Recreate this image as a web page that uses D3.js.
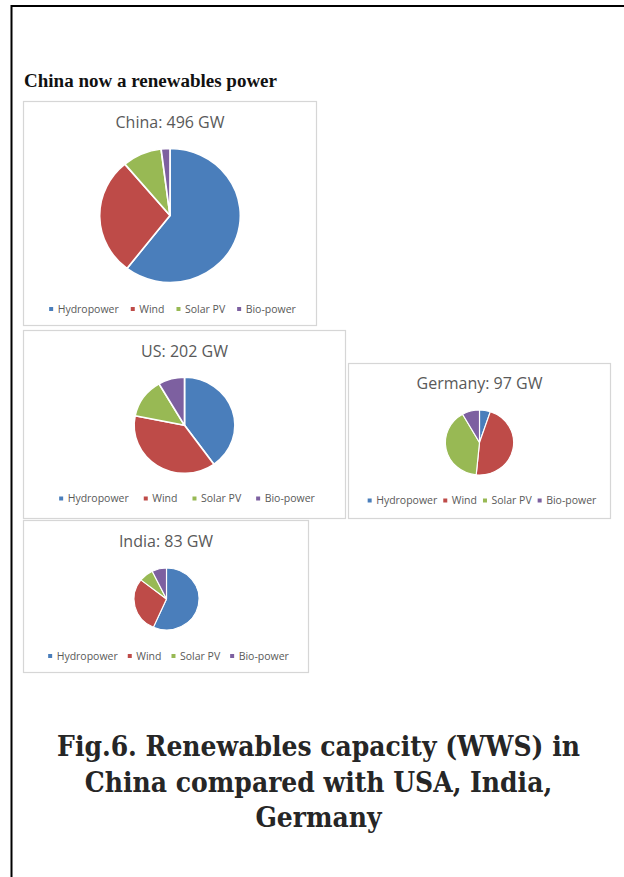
<!DOCTYPE html>
<html>
<head>
<meta charset="utf-8">
<script src="https://cdn.jsdelivr.net/npm/d3@7"></script>
<style>
  html, body { margin: 0; padding: 0; background: #fff; }
  svg { display: block; }
</style>
</head>
<body>
<svg id="chart" width="624" height="877"></svg>
<script>
// ---------------- DATA ----------------
const categories = ["Hydropower", "Wind", "Solar PV", "Bio-power"];
const countries = ["China", "US", "Germany", "India"];
const totalsGW = [496, 202, 97, 83];
const chinaValues = [300, 141, 45, 10];
const usValues = [81, 77, 27, 17];
const germanyValues = [5, 45, 39, 8];
const indiaValues = [47, 24, 6, 6];
const seriesValues = [chinaValues, usValues, germanyValues, indiaValues];
const headline = "China now a renewables power";
const captionLines = [
  "Fig.6. Renewables capacity (WWS) in",
  "China compared with USA, India,",
  "Germany"
];

// ---------------- LAYOUT ----------------
const colors = ["#4a7ebb", "#be4b48", "#98b954", "#7d60a0"];
const panelLayout = [
  { x: 23.5, y: 101.5, w: 293, h: 224, cx: 170, cy: 215.5, r: 67, titleY: 127.5, legendY: 309, gap: 14 },
  { x: 23.5, y: 330.5, w: 322, h: 188, cx: 184.5, cy: 425.3, r: 48, titleY: 356.5, legendY: 498.5, gap: 17 },
  { x: 348.5, y: 363.5, w: 262, h: 155, cx: 479.5, cy: 442.5, r: 32.5, titleY: 388.5, legendY: 500.5, gap: 8 },
  { x: 23.5, y: 520.5, w: 285, h: 152, cx: 166.5, cy: 599, r: 31, titleY: 546.5, legendY: 656, gap: 12 }
];

const svg = d3.select("#chart");
const color = d3.scaleOrdinal().domain(categories).range(colors);

// frame lines
svg.append("line").attr("x1", 11.5).attr("x2", 624).attr("y1", 6).attr("y2", 6)
  .attr("stroke", "#000").attr("stroke-width", 2);
svg.append("line").attr("x1", 11.5).attr("x2", 11.5).attr("y1", 5).attr("y2", 877)
  .attr("stroke", "#000").attr("stroke-width", 2);

// headline
svg.append("text")
  .attr("x", 24).attr("y", 86.5)
  .attr("font-family", "Liberation Serif, Times New Roman, serif")
  .attr("font-weight", "bold").attr("font-size", 18)
  .attr("textLength", 253).attr("lengthAdjust", "spacingAndGlyphs")
  .attr("fill", "#111")
  .text(headline);

const pie = d3.pie().sort(null).value(d => d.value);

countries.forEach((country, i) => {
  const L = panelLayout[i];
  const g = svg.append("g");
  g.append("rect")
    .attr("x", L.x).attr("y", L.y).attr("width", L.w).attr("height", L.h)
    .attr("fill", "#fff").attr("stroke", "#d6d6d6").attr("stroke-width", 1.2);

  g.append("text")
    .attr("x", L.x + L.w / 2).attr("y", L.titleY)
    .attr("text-anchor", "middle")
    .attr("font-family", "Open Sans, sans-serif")
    .attr("font-size", 16)
    .attr("fill", "#595959")
    .text(`${country}: ${totalsGW[i]} GW`);

  const data = categories.map((c, k) => ({ cat: c, value: seriesValues[i][k] }));
  const arc = d3.arc().innerRadius(0).outerRadius(L.r);
  const pg = g.append("g").attr("transform", `translate(${L.cx},${L.cy}) scale(1.05,1)`);
  pg.selectAll("path").data(pie(data)).join("path")
    .attr("d", arc)
    .attr("fill", d => color(d.data.cat))
    .attr("stroke", "#fff")
    .attr("stroke-width", L.r > 45 ? 1.6 : 1.1)
    .attr("stroke-linejoin", "round");

  // legend
  const lg = g.append("g");
  const items = lg.selectAll("g").data(categories).join("g");
  items.append("rect")
    .attr("x", -2).attr("y", -2).attr("width", 4).attr("height", 4)
    .attr("fill", d => color(d));
  items.append("text")
    .attr("x", 6.5).attr("y", 3.6)
    .attr("font-family", "Open Sans, sans-serif")
    .attr("font-size", 10.5)
    .attr("fill", "#595959")
    .text(d => d);
  let pos = 0;
  const widths = [];
  items.each(function () {
    widths.push(d3.select(this).select("text").node().getComputedTextLength());
  });
  const offsets = widths.map((w, k) => {
    const o = pos;
    pos += 6.5 + w + L.gap;
    return o;
  });
  const total = pos - L.gap + 2;
  const startX = L.x + L.w / 2 + 2.5 - total / 2 + 2;
  items.attr("transform", (d, k) => `translate(${startX + offsets[k]},${L.legendY})`);
});

// caption
const cap = svg.append("g");
const capTexts = cap.selectAll("text").data(captionLines).join("text")
  .attr("x", 318.5)
  .attr("y", (d, k) => 756 + k * 35.5)
  .attr("text-anchor", "middle")
  .attr("font-family", "DejaVu Serif Condensed, DejaVu Serif, serif")
  .attr("font-stretch", "condensed")
  .attr("font-weight", "bold")
  .attr("font-size", 26)
  .attr("fill", "#262626")
  .text(d => d);
// fit first line to the measured width in the reference
const w0 = capTexts.nodes()[0].getComputedTextLength();
const fs = 26 * 523 / w0;
capTexts.attr("font-size", fs);
</script>
</body>
</html>
